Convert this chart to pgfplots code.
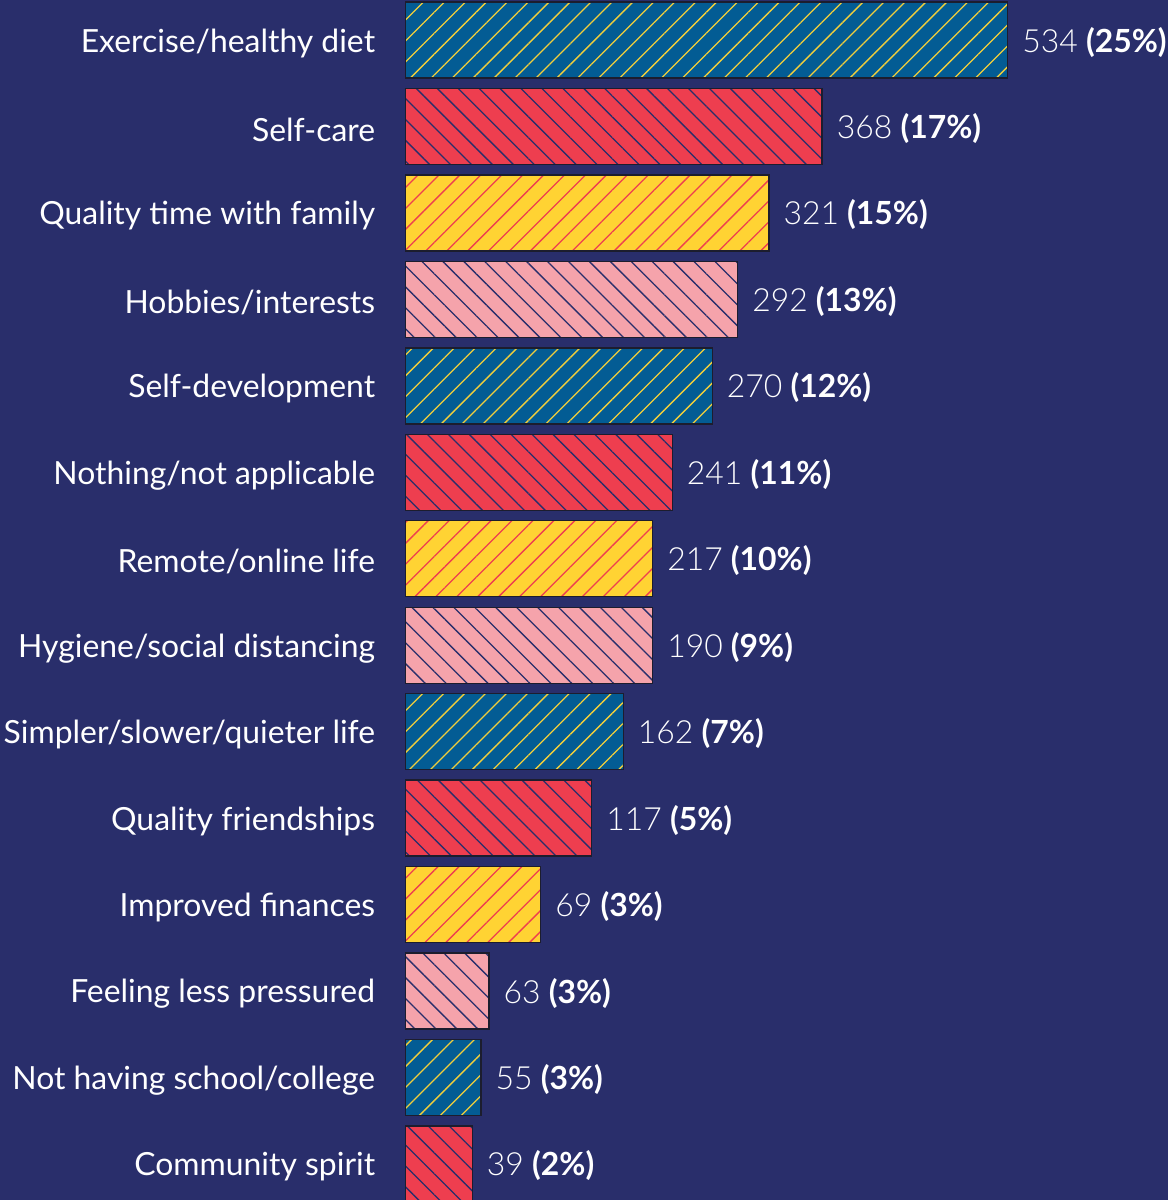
\documentclass[border=0pt]{standalone}
\usepackage{fontspec}
\setmainfont{Lato}
\newfontfamily\lightfont{Lato Light}
\usepackage{pgfplots}
\pgfplotsset{compat=1.18}
\usetikzlibrary{patterns.meta}
\definecolor{bg}{HTML}{292E6B}
\definecolor{cblue}{HTML}{035C94}
\definecolor{cred}{HTML}{EE3E4F}
\definecolor{cyel}{HTML}{FFD333}
\definecolor{cpink}{HTML}{F5A3AB}
\definecolor{hyel}{HTML}{F2CF3B}
\definecolor{edge}{HTML}{1C1D2E}
\tikzset{
  hatch/.style 2 args={pattern={Lines[angle=#1,distance=7.4bp,line width=0.65bp]},
    pattern color=#2, draw=edge, line width=0.7bp},
}
\pgfplotsset{
  lab/.style={
    visualization depends on={\thisrow{n} \as \nval},
    visualization depends on={\thisrow{p} \as \pval},
    nodes near coords={{\lightfont\pgfmathprintnumber[assume math mode=true,int detect]{\nval}}
      \textbf{(\pgfmathprintnumber[assume math mode=true,int detect]{\pval}\%)}},
    every node near coord/.append style={font=\fontsize{16}{19}\selectfont, text=white,
      anchor=west, inner sep=0pt, xshift=7bp, yshift=-1bp},
  },
}
% one table per colour group: drawn bar length (as in the picture), position,
% printed count, printed percent
\pgfplotstableread{
len y n p
534 13 534 25
272.2 9 270 12
193.4 5 162 7
67.3 1 55 3
}\blue
\pgfplotstableread{
len y n p
369.6 12 368 17
236.8 8 241 11
165.4 4 117 5
59.6 0 39 2
}\red
\pgfplotstableread{
len y n p
322.4 11 321 15
219.4 7 217 10
120.2 3 69 3
}\yel
\pgfplotstableread{
len y n p
294.7 10 292 13
219.4 6 190 9
74.4 2 63 3
}\pink
\begin{document}
\begin{tikzpicture}
\fill[bg] (0,0) rectangle (584bp,600bp);
\begin{axis}[at={(202.5bp,0)}, anchor=south west, scale only axis,
    width=381.5bp, height=600bp,
    xbar, bar width=0.879, bar shift=0pt,
    xmin=0, xmax=676, ymin=-0.417, ymax=13.463,
    axis line style={draw=none}, xtick=\empty, major tick style={draw=none},
    ytick={0,...,13},
    yticklabels={Community spirit, Not having school/college, Feeling less pressured,
      Improved finances, Quality friendships, Simpler/slower/quieter life,
      Hygiene/social distancing, Remote/online life, Nothing/not applicable,
      Self-development, Hobbies/interests, Quality time with family, Self-care,
      Exercise/healthy diet},
    yticklabel style={font=\fontsize{16}{19}\selectfont, text=white, anchor=east,
      inner sep=0pt, yshift=-1.5bp},
    yticklabel shift=10.5bp,
  ]
  \addplot[fill=cblue, draw=none] table[x=len, y=y] {\blue};
  \addplot[fill=cred, draw=none] table[x=len, y=y] {\red};
  \addplot[fill=cyel, draw=none] table[x=len, y=y] {\yel};
  \addplot[fill=cpink, draw=none] table[x=len, y=y] {\pink};
  \addplot[hatch={45}{hyel}, lab] table[x=len, y=y] {\blue};
  \addplot[hatch={-45}{bg}, lab] table[x=len, y=y] {\red};
  \addplot[hatch={45}{cred}, lab] table[x=len, y=y] {\yel};
  \addplot[hatch={-45}{bg}, lab] table[x=len, y=y] {\pink};
\end{axis}
\pgfresetboundingbox
\path[use as bounding box] (0,0) rectangle (584bp,600bp);
\end{tikzpicture}
\end{document}
